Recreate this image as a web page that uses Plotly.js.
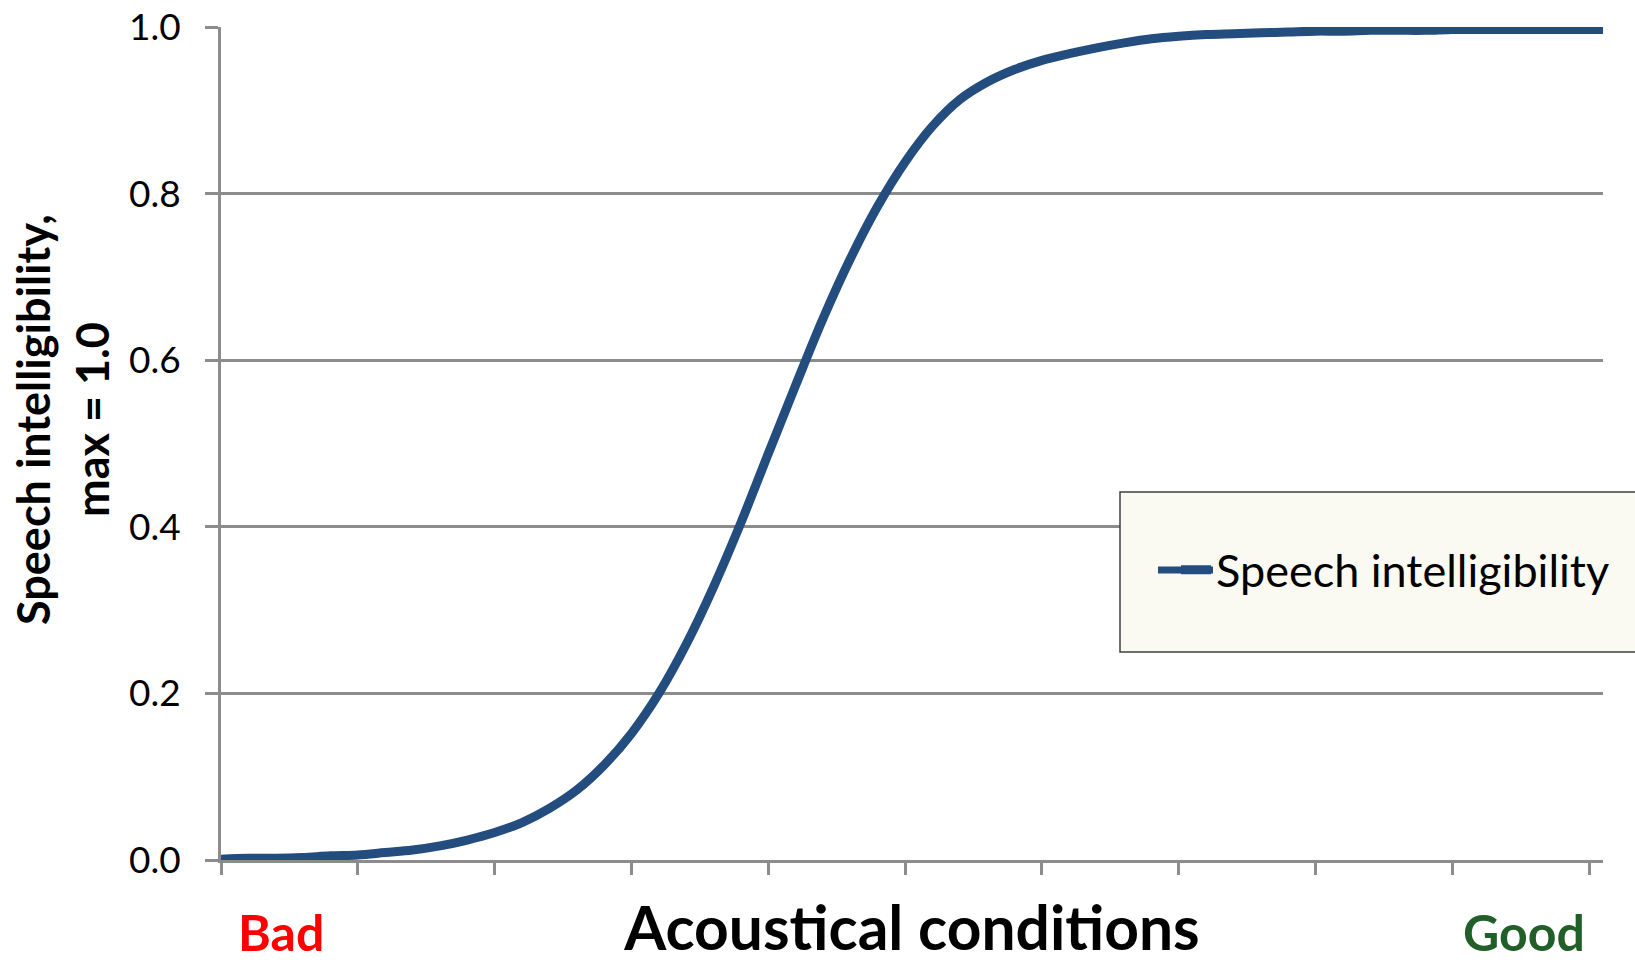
<!DOCTYPE html>
<html>
<head>
<meta charset="utf-8">
<script src="https://cdn.plot.ly/plotly-3.0.1.min.js"></script>
<style>
  html, body { margin: 0; padding: 0; background: #ffffff; }
  #chart { width: 1635px; height: 963px; }
</style>
</head>
<body>
<div id="chart"></div>
<script>
// ---- Data ----
const conditionSteps = [0, 2, 4, 6, 8, 10, 12, 14, 16, 18, 20, 22, 24, 26, 28, 30, 32, 34, 36, 38,
  40, 42, 44, 46, 48, 50, 52, 54, 56, 58, 60, 62, 64, 66, 68, 70, 72, 74, 76, 78,
  80, 82, 84, 86, 88, 90, 92, 94, 96, 98, 100, 101];
const speechIntelligibility = [0.001, 0.002, 0.002, 0.003, 0.005, 0.006, 0.009, 0.012, 0.017, 0.024,
  0.033, 0.045, 0.062, 0.084, 0.114, 0.152, 0.200, 0.259, 0.328, 0.405,
  0.488, 0.570, 0.650, 0.722, 0.785, 0.838, 0.881, 0.913, 0.934, 0.949,
  0.960, 0.968, 0.975, 0.981, 0.986, 0.989, 0.991, 0.992, 0.993, 0.994,
  0.995, 0.995, 0.996, 0.996, 0.996, 0.997, 0.997, 0.997, 0.997, 0.997,
  0.997, 0.997];
const seriesName = 'Speech intelligibility';
const yTickValues = [0, 0.2, 0.4, 0.6, 0.8, 1.0];
const yTickLabels = ['0.0', '0.2', '0.4', '0.6', '0.8', '1.0'];
const xTitle = 'Acoustical conditions';
const yTitle = 'Speech intelligibility,<br>max = 1.0';
const lowLabel = 'Bad';
const highLabel = 'Good';

const FONT = 'Lato, "Open Sans", sans-serif';
const GRID = '#8C8C8C';
const LINE = '#234C7F';

// pixel helpers for paper-positioned decorations (plot area 221..1603 x 27..860)
const px2paperX = function (px) { return (px - 221) / 1382; };
const px2paperY = function (py) { return (860 - py) / 833; };

const trace = {
  type: 'scatter',
  mode: 'lines',
  name: seriesName,
  x: conditionSteps,
  y: speechIntelligibility,
  line: { color: LINE, width: 9, shape: 'spline', smoothing: 1 },
  hoverinfo: 'skip'
};

const layout = {
  width: 1635,
  height: 963,
  margin: { l: 221, r: 32, t: 27, b: 103, pad: 0 },
  paper_bgcolor: '#ffffff',
  plot_bgcolor: '#ffffff',
  showlegend: true,
  font: { family: FONT, color: '#000000' },
  xaxis: {
    range: [0, 101],
    tick0: 0,
    dtick: 10,
    ticks: 'outside',
    ticklen: 12,
    tickwidth: 3,
    tickcolor: GRID,
    showline: true,
    linecolor: GRID,
    linewidth: 3,
    showgrid: false,
    zeroline: false,
    showticklabels: false,
    fixedrange: true,
    title: {
      text: xTitle,
      font: { family: FONT, size: 60.5, weight: 'bold', color: '#000000' },
      standoff: 53
    }
  },
  yaxis: {
    range: [0, 1],
    tickvals: yTickValues,
    ticktext: yTickLabels,
    ticks: 'outside',
    ticklen: 13,
    tickwidth: 3,
    tickcolor: GRID,
    showline: true,
    linecolor: GRID,
    linewidth: 3,
    showgrid: true,
    gridcolor: GRID,
    gridwidth: 3,
    zeroline: false,
    tickfont: { family: FONT, size: 37, color: '#000000' },
    ticklabelstandoff: 17,
    fixedrange: true
  },
  legend: {
    x: px2paperX(1176),
    y: px2paperY(570),
    xanchor: 'left',
    yanchor: 'middle',
    bgcolor: 'rgba(0,0,0,0)',
    borderwidth: 0,
    font: { family: FONT, size: 45, color: '#000000' }
  },
  shapes: [
    {
      type: 'rect',
      xref: 'paper', yref: 'paper',
      x0: px2paperX(1120), x1: px2paperX(1650),
      y0: px2paperY(652), y1: px2paperY(492),
      fillcolor: '#FAFAF3',
      line: { color: '#404040', width: 1.5 },
      layer: 'above'
    },
    {
      type: 'line',
      xref: 'paper', yref: 'paper',
      x0: px2paperX(1158), x1: px2paperX(1213),
      y0: px2paperY(570), y1: px2paperY(570),
      line: { color: LINE, width: 7 },
      layer: 'above'
    }
  ],
  annotations: [
    {
      text: yTitle, xref: 'paper', yref: 'paper',
      x: px2paperX(62), y: px2paperY(420),
      xanchor: 'center', yanchor: 'middle', textangle: -90, showarrow: false,
      font: { family: FONT, size: 45, weight: 'bold', color: '#000000' }
    },
    {
      text: lowLabel, xref: 'x', yref: 'paper', x: 4.4, y: px2paperY(963),
      xanchor: 'center', yanchor: 'bottom', showarrow: false, borderpad: 0,
      font: { family: FONT, size: 50, weight: 'bold', color: '#FF0000' }
    },
    {
      text: highLabel, xref: 'x', yref: 'paper', x: 95.2, y: px2paperY(963),
      xanchor: 'center', yanchor: 'bottom', showarrow: false, borderpad: 0,
      font: { family: FONT, size: 50, weight: 'bold', color: '#215E28' }
    }
  ]
};

Plotly.newPlot('chart', [trace], layout, { displayModeBar: false, staticPlot: true });
</script>
</body>
</html>
